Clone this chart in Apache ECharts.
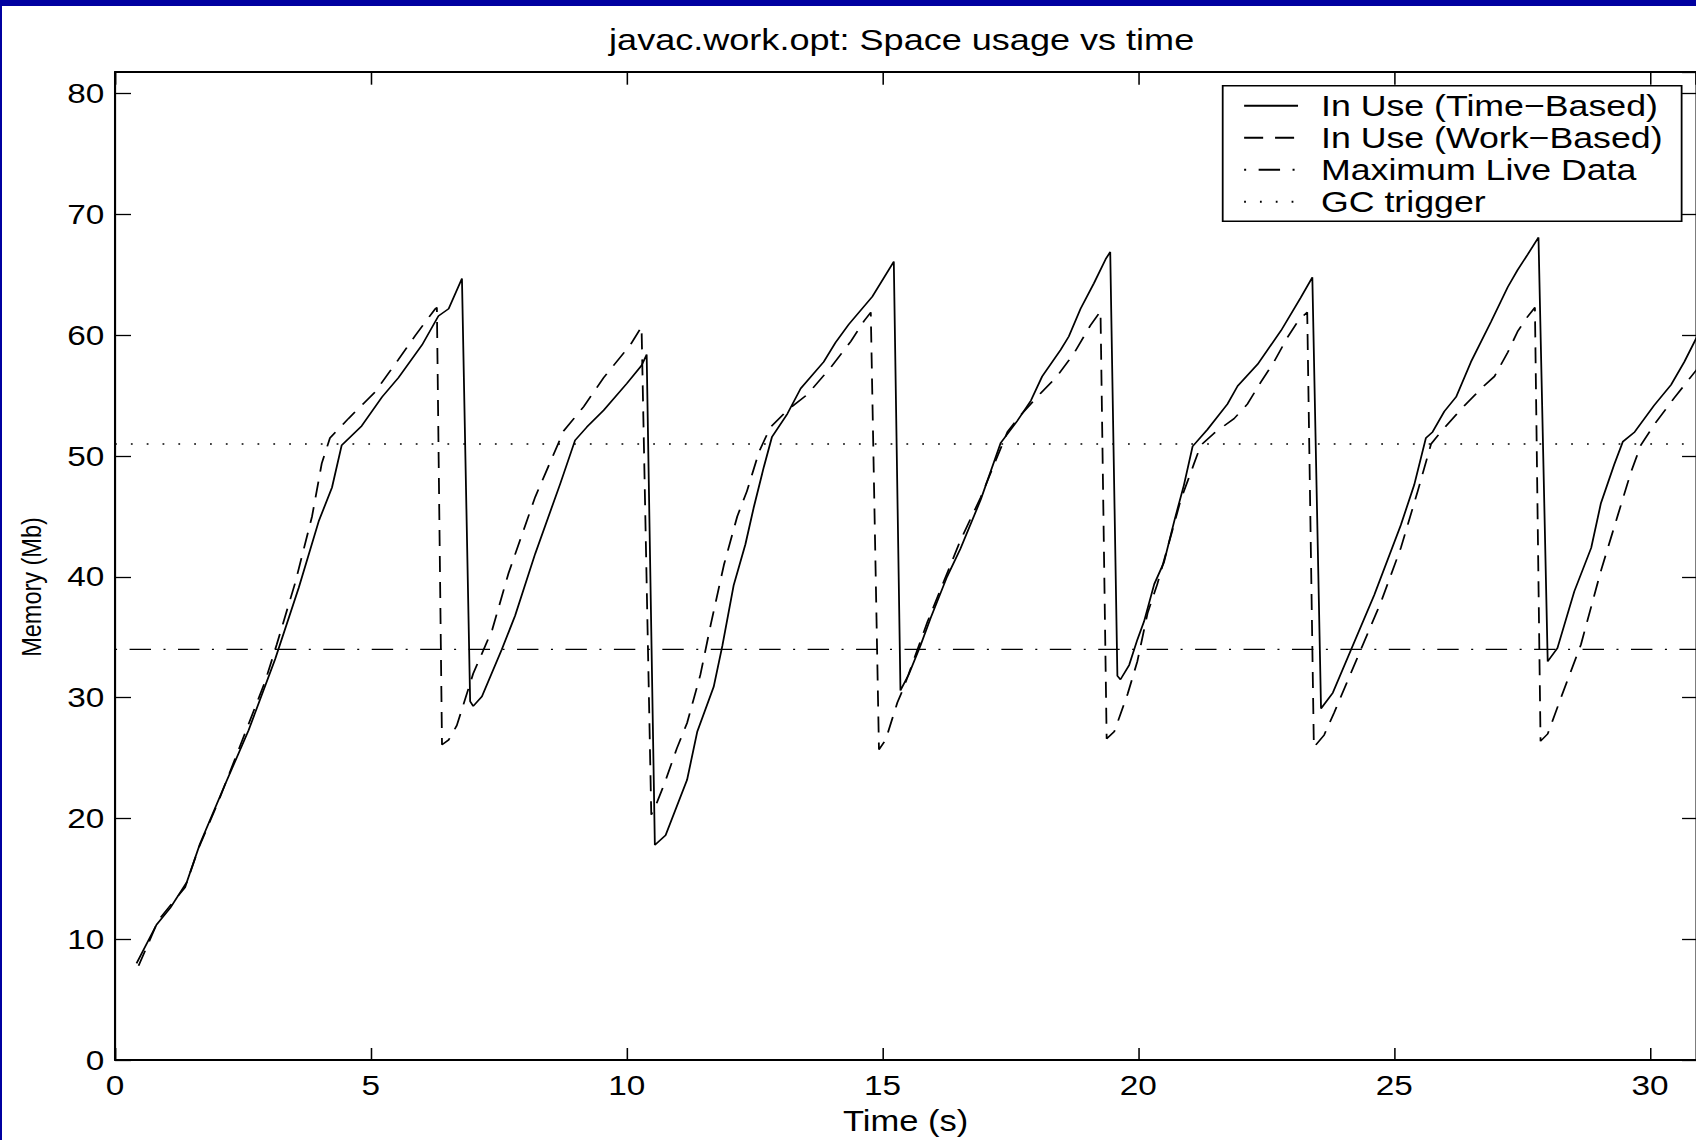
<!DOCTYPE html>
<html lang="en">
<head>
    <meta charset="UTF-8" />
    <title>javac.work.opt: Space usage vs time</title>
    <script src="https://cdn.jsdelivr.net/npm/echarts@6.0.0/dist/echarts.min.js"></script>
    <style>
        html, body { margin: 0; padding: 0; overflow: hidden; }
        body { width: 1696px; height: 1140px; background: #0000a0; position: relative; }
        #frame { position: absolute; left: 2px; top: 6px; width: 1694px; height: 1134px; background: #fff; overflow: hidden; }
        #chart { height: 1134px; transform-origin: 0 0; }
    </style>
</head>
<body>
    <div id="frame"><div id="chart"></div></div>
    <script>
        // 原图是被横向拉伸过的 matlab 图，所以整个图表横向放大
        var STRETCH = 1.19;
        var X_MAX = 30.9;
        var Y_MAX = 81.8;

        var seriesNames = ["In Use (Time\u2212Based)", "In Use (Work\u2212Based)", "Maximum Live Data", "GC trigger"];

        // 实线: 时间驱动
        var timeBasedT = [0.42, 0.81, 1.08, 1.40, 1.66, 2.15, 2.61, 3.13, 3.59, 3.98, 4.24, 4.43, 4.82, 5.22, 5.54, 6.00, 6.32, 6.52, 6.78,
            6.94, 7.00, 7.17, 7.56, 7.82, 8.21, 8.70, 8.99, 9.22, 9.55, 10.00, 10.29, 10.39,
            10.55, 10.76, 11.18, 11.38, 11.70, 11.87, 12.09, 12.32, 12.48, 12.68, 12.84, 13.14, 13.40, 13.85, 14.08, 14.34, 14.80, 15.22,
            15.35, 15.51, 15.74, 15.94, 16.26, 16.52, 16.92, 17.31, 17.63, 17.90, 18.12, 18.48, 18.64, 18.87, 19.13, 19.36, 19.45,
            19.59, 19.65, 19.82, 19.98, 20.11, 20.31, 20.50, 20.70, 20.89, 21.06, 21.35, 21.74, 21.94, 22.33, 22.79, 23.17, 23.40,
            23.57, 23.80, 24.15, 24.61, 25.13, 25.39, 25.62, 25.75, 25.98, 26.21, 26.50, 26.89, 27.22, 27.41, 27.61, 27.82,
            28.00, 28.19, 28.52, 28.85, 29.04, 29.30, 29.47, 29.70, 30.08, 30.41, 30.67, 30.92];
        var timeBasedMb = [8.0, 11.2, 12.6, 14.7, 17.9, 22.8, 27.3, 33.2, 39.1, 44.6, 47.4, 50.9, 52.5, 54.9, 56.5, 59.2, 61.6, 62.2, 64.7,
            29.7, 29.3, 30.1, 34.0, 36.8, 41.9, 47.7, 51.3, 52.4, 53.8, 56.0, 57.5, 58.4,
            17.8, 18.6, 23.2, 27.2, 30.9, 34.3, 39.3, 42.7, 45.7, 49.1, 51.6, 53.5, 55.6, 57.8, 59.4, 60.9, 63.2, 66.1,
            30.6, 31.9, 34.3, 36.6, 40.0, 42.3, 46.4, 51.1, 52.9, 54.6, 56.6, 58.8, 59.9, 62.2, 64.3, 66.3, 66.9,
            31.8, 31.5, 32.7, 34.8, 36.3, 39.4, 41.2, 44.6, 47.6, 50.8, 52.2, 54.3, 55.8, 57.6, 60.4, 63.1, 64.8,
            29.1, 30.4, 33.9, 38.5, 44.3, 47.6, 51.5, 52.0, 53.7, 54.9, 57.8, 61.1, 64.0, 65.4, 66.7, 68.1,
            33.0, 34.1, 38.8, 42.4, 46.1, 49.3, 51.2, 52.0, 54.2, 55.9, 57.8, 59.9];

        // 虚线: 工作量驱动
        var workBasedT = [0.46, 0.85, 1.37, 1.63, 2.02, 2.93, 3.16, 3.52, 3.85, 4.04, 4.20, 4.56, 5.08, 5.54, 5.87, 6.26, 6.29,
            6.39, 6.52, 6.68, 7.00, 7.37, 7.69, 8.21, 8.77, 9.16, 9.55, 10.07, 10.29,
            10.48, 10.56, 10.73, 10.98, 11.18, 11.44, 11.64, 11.90, 12.16, 12.35, 12.59, 12.81, 13.14, 13.53, 13.98, 14.38, 14.64, 14.77,
            14.93, 15.06, 15.29, 15.42, 15.88, 16.52, 16.92, 17.44, 17.70, 18.09, 18.41, 18.74, 19.06, 19.26,
            19.38, 19.53, 19.79, 19.98, 20.18, 20.37, 20.57, 20.83, 21.09, 21.22, 21.48, 21.87, 22.13, 22.39, 22.65, 22.91, 23.14, 23.30,
            23.43, 23.63, 23.83, 24.28, 24.74, 25.13, 25.46, 25.72, 25.91, 26.31, 26.70, 26.96, 27.22, 27.41, 27.58, 27.75,
            27.86, 28.00, 28.26, 28.65, 29.04, 29.37, 29.63, 29.82, 30.08, 30.47, 30.92];
        var workBasedMb = [7.8, 11.6, 14.3, 17.5, 21.4, 31.3, 34.4, 39.5, 45.0, 49.4, 51.5, 53.1, 55.3, 58.0, 60.0, 62.2, 62.3,
            26.1, 26.5, 27.7, 32.0, 35.6, 40.3, 46.6, 52.1, 54.1, 56.5, 59.2, 60.7,
            20.3, 21.0, 22.8, 25.8, 27.9, 31.9, 36.0, 41.0, 45.0, 47.1, 50.4, 52.4, 53.8, 55.1, 57.3, 59.5, 61.2, 61.9,
            25.7, 26.5, 29.6, 30.9, 36.3, 43.0, 46.6, 52.0, 53.4, 55.2, 56.6, 58.5, 60.8, 62.0,
            26.6, 27.2, 30.3, 33.0, 37.0, 39.4, 42.4, 46.4, 49.4, 50.9, 51.9, 53.1, 54.3, 56.1, 57.8, 59.8, 61.3, 61.9,
            25.9, 26.9, 28.8, 33.3, 37.9, 42.4, 47.1, 51.0, 52.0, 53.9, 55.6, 56.6, 58.6, 60.3, 61.4, 62.3,
            26.4, 27.0, 30.0, 34.4, 40.5, 45.1, 48.7, 50.9, 52.6, 54.8, 57.2];

        var maxLiveData = 34;
        var gcTrigger = 51;

        var font = "'Liberation Sans', Arial, Helvetica, sans-serif";

        function zip(xs, ys) {
            return xs.map(function (x, i) { return [x, ys[i]]; });
        }

        var chartDom = document.getElementById("chart");
        chartDom.style.width = (1694 / STRETCH) + "px";
        chartDom.style.transform = "scaleX(" + STRETCH + ")";

        var mCharts = echarts.init(chartDom, null, { renderer: "svg" });

        var axisLine = { show: true, onZero: false, lineStyle: { color: "#000", width: 1.8 } };
        var tickStyle = { color: "#000", width: 1.3 };

        var option = {
            animation: false,
            backgroundColor: "#fff",
            title: {
                text: "javac.work.opt: Space usage vs time",
                left: 756,
                top: 19,
                textAlign: "center",
                padding: 0,
                textStyle: { fontSize: 30.3, fontWeight: "normal", color: "#000", fontFamily: font },
            },
            legend: {
                orient: "vertical",
                left: 1025.8,
                top: 79.7,
                padding: [4.5, 16, 4, 17],
                itemWidth: 45.3,
                itemHeight: 31,
                itemGap: 1,
                borderColor: "#000",
                borderWidth: 1.5,
                borderRadius: 0,
                backgroundColor: "#fff",
                selectedMode: false,
                itemStyle: { opacity: 0 },
                textStyle: { fontSize: 30, color: "#000", fontFamily: font, lineHeight: 31, padding: [0, 0, 0, 14.3] },
                data: seriesNames,
            },
            grid: { left: 95, right: 0.4, top: 66, bottom: 75.3, containLabel: false },
            xAxis: [
                {
                    type: "value",
                    position: "bottom",
                    min: 0,
                    max: X_MAX,
                    interval: 5,
                    name: "Time (s)",
                    nameLocation: "middle",
                    nameGap: 46,
                    nameTextStyle: { fontSize: 29, color: "#000", fontFamily: font },
                    axisLine: axisLine,
                    axisTick: { show: true, inside: true, length: 12, lineStyle: tickStyle },
                    axisLabel: { margin: 11, fontSize: 28, color: "#000", fontFamily: font, showMaxLabel: false },
                    splitLine: { show: false },
                },
                {
                    type: "value",
                    position: "top",
                    min: 0,
                    max: X_MAX,
                    interval: 5,
                    axisLine: axisLine,
                    axisTick: { show: true, inside: true, length: 12.7, lineStyle: tickStyle },
                    axisLabel: { show: false },
                    splitLine: { show: false },
                },
            ],
            yAxis: [
                {
                    type: "value",
                    position: "left",
                    min: 0,
                    max: Y_MAX,
                    interval: 10,
                    name: "Memory (Mb)",
                    nameLocation: "middle",
                    nameRotate: 90,
                    nameGap: 58,
                    nameTextStyle: { fontSize: 23.5, color: "#000", fontFamily: font, padding: [0, 42, 0, 0] },
                    axisLine: axisLine,
                    axisTick: { show: true, inside: true, length: 13.4, lineStyle: tickStyle },
                    axisLabel: { margin: 9, fontSize: 28, color: "#000", fontFamily: font, showMaxLabel: false },
                    splitLine: { show: false },
                },
                {
                    type: "value",
                    position: "right",
                    min: 0,
                    max: Y_MAX,
                    interval: 10,
                    axisLine: axisLine,
                    axisTick: { show: true, inside: true, length: 11.8, lineStyle: tickStyle },
                    axisLabel: { show: false },
                    splitLine: { show: false },
                },
            ],
            series: [
                {
                    name: seriesNames[0],
                    type: "line",
                    data: zip(timeBasedT, timeBasedMb),
                    symbol: "none",
                    showSymbol: false,
                    lineStyle: { color: "#000", width: 1.5, type: "solid" },
                },
                {
                    name: seriesNames[1],
                    type: "line",
                    data: zip(workBasedT, workBasedMb),
                    symbol: "none",
                    showSymbol: false,
                    lineStyle: { color: "#000", width: 1.5, type: [16, 10] },
                },
                {
                    name: seriesNames[2],
                    type: "line",
                    data: [[0, maxLiveData], [X_MAX, maxLiveData]],
                    symbol: "none",
                    showSymbol: false,
                    lineStyle: { color: "#000", width: 1.3, type: [1.7, 10.5, 18, 10.5] },
                },
                {
                    name: seriesNames[3],
                    type: "line",
                    data: [[0, gcTrigger], [X_MAX, gcTrigger]],
                    symbol: "none",
                    showSymbol: false,
                    lineStyle: { color: "#000", width: 1.4, type: [1.5, 11.8] },
                },
            ],
        };

        mCharts.setOption(option);
    </script>
</body>
</html>
